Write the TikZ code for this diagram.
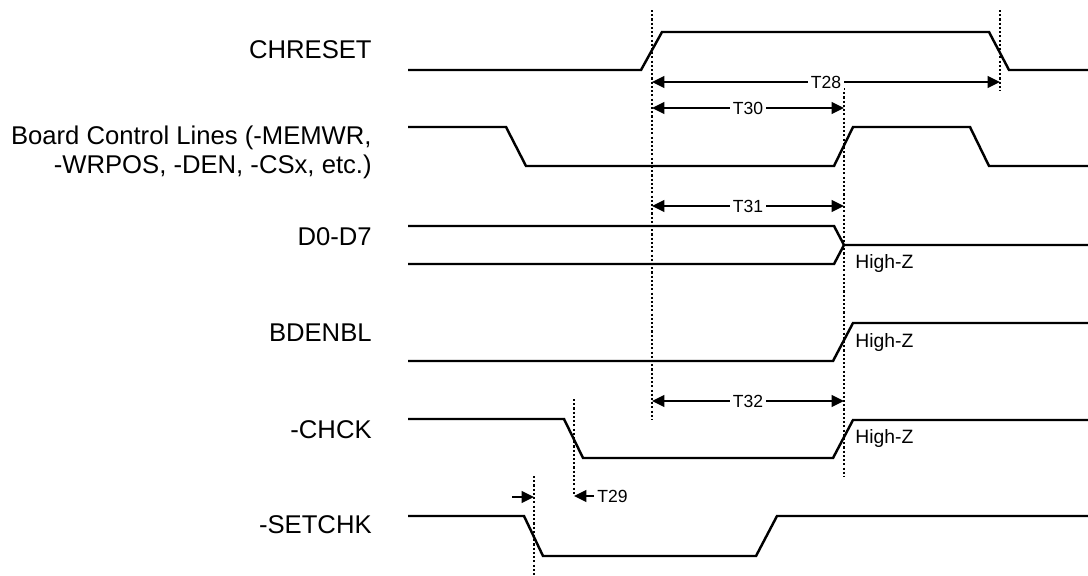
\documentclass[tikz,border=0pt]{standalone}
\usepackage{fontspec}
\setmainfont{Liberation Sans}
\usepackage{tikz}
\usetikzlibrary{arrows.meta,positioning,calc}
\tikzset{
  wave/.style={line width=1.4pt,line join=miter},
  guide/.style={line width=1.5pt,dash pattern=on 1.2pt off 1.2pt},
  timearr/.style={{Triangle[length=7pt,width=6.5pt]}-{Triangle[length=7pt,width=6.5pt]},line width=1.4pt},
  halfarr/.style={-{Triangle[length=7pt,width=6.5pt]},line width=1.4pt},
  siglabel/.style={anchor=east,align=right,inner sep=0pt,
                   font=\fontsize{14.6}{16.5}\selectfont},
  tlabel/.style={fill=white,inner sep=1.5pt,font=\fontsize{10}{11}\selectfont},
  hizlabel/.style={anchor=west,inner sep=0pt,font=\fontsize{11}{12}\selectfont}
}
\begin{document}
\begin{tikzpicture}[x=0.02cm,y=-0.02cm]
  \useasboundingbox (0,0) rectangle (1088,575);

  % signal names
  \node[siglabel] (chreset) at (372,50) {CHRESET};
  \node[siglabel] (board) at (372,152) {Board Control Lines (-MEMWR,\\-WRPOS, -DEN, -CSx, etc.)};
  \node[siglabel] (data) at (372,237) {D0-D7};
  \node[siglabel] (bdenbl) at (372,333) {BDENBL};
  \node[siglabel] (chck) at (372,430) {-CHCK};
  \node[siglabel] (setchk) at (372,525) {-SETCHK};

  % waveforms
  \draw[wave] (408,70) -- (641,70) -- (662,32) -- (989,32) -- (1009,70) -- (1088,70);
  \draw[wave] (408,127) -- (506,127) -- (526,166) -- (834,166) -- (853,127)
              -- (970,127) -- (989,166) -- (1088,166);
  \draw[wave] (408,226) -- (834,226) -- (844,245) -- (1088,245);
  \draw[wave] (408,264) -- (834,264) -- (844,245);
  \draw[wave] (408,361) -- (833,361) -- (853,323) -- (1088,323);
  \draw[wave] (408,419) -- (564,419) -- (583,458) -- (833,458) -- (853,420) -- (1088,420);
  \draw[wave] (408,516) -- (524,516) -- (543,556) -- (756,556) -- (777,516) -- (1088,516);

  \node[hizlabel] (hiz1) at (855,263) {High-Z};
  \node[hizlabel] (hiz2) at (855,342) {High-Z};
  \node[hizlabel] (hiz3) at (855,438) {High-Z};

  % reference edges
  \coordinate (g1a) at (652,10);   \coordinate (g1b) at (652,420);
  \coordinate (g2a) at (844,88);   \coordinate (g2b) at (844,477);
  \coordinate (g3a) at (1000,10);  \coordinate (g3b) at (1000,91);
  \coordinate (g4a) at (574,399);  \coordinate (g4b) at (574,495);
  \coordinate (g5a) at (534,476);  \coordinate (g5b) at (534,575);
  \draw[guide] (g1a) -- (g1b);
  \draw[guide] (g2a) -- (g2b);
  \draw[guide] (g3a) -- (g3b);
  \draw[guide] (g4a) -- (g4b);
  \draw[guide] (g5a) -- (g5b);

  % timing parameters
  \coordinate (t28l) at (652,82);  \coordinate (t28r) at (1000,82);
  \coordinate (t30l) at (652,108); \coordinate (t30r) at (844,108);
  \coordinate (t31l) at (652,206); \coordinate (t31r) at (844,206);
  \coordinate (t32l) at (652,401); \coordinate (t32r) at (844,401);
  \draw[timearr] (t28l) -- node[tlabel] (t28) {T28} (t28r);
  \draw[timearr] (t30l) -- node[tlabel] (t30) {T30} (t30r);
  \draw[timearr] (t31l) -- node[tlabel] (t31) {T31} (t31r);
  \draw[timearr] (t32l) -- node[tlabel] (t32) {T32} (t32r);

  \node[anchor=west,inner sep=0pt,font=\fontsize{10}{11}\selectfont] (t29) at (597,496) {T29};
  \coordinate (t29a) at (594,496); \coordinate (t29b) at (574,496);
  \coordinate (t29c) at (512,497); \coordinate (t29d) at (534,497);
  \draw[halfarr] (t29a) -- (t29b);
  \draw[halfarr] (t29c) -- (t29d);
\end{tikzpicture}
\end{document}
